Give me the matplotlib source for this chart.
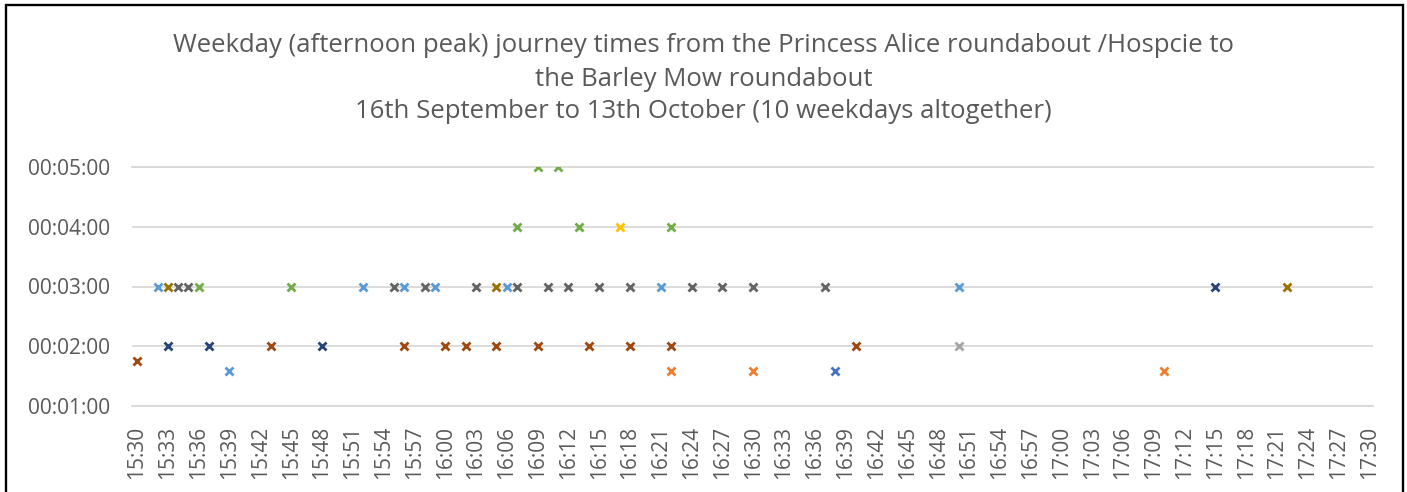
import matplotlib
matplotlib.use("Agg")
import matplotlib.pyplot as plt
from matplotlib import font_manager
from matplotlib.patches import Rectangle

# ---------------- data ----------------
title_lines = [
    "Weekday (afternoon peak) journey times from the Princess Alice roundabout /Hospcie to",
    "the Barley Mow roundabout",
    "16th September to 13th October (10 weekdays altogether)",
]

series_names = ["Day 1", "Day 2", "Day 3", "Day 4", "Day 5",
                "Day 6", "Day 7", "Day 8", "Day 9", "Day 10"]
series_colors = ["#4472C4", "#ED7D31", "#A5A5A5", "#FFC000", "#5B9BD5",
                 "#70AD47", "#264478", "#9E480E", "#636363", "#997300"]

# departure time (HH:MM) and journey time (MM:SS) per day
day1_times = ["16:38"]
day1_durations = ["01:35"]
day2_times = ["16:22", "16:30", "17:10"]
day2_durations = ["01:35", "01:35", "01:35"]
day3_times = ["16:50"]
day3_durations = ["02:00"]
day4_times = ["16:17"]
day4_durations = ["04:00"]
day5_times = ["15:32", "15:39", "15:52", "15:56", "15:59", "16:06", "16:21", "16:50"]
day5_durations = ["03:00", "01:35", "03:00", "03:00", "03:00", "03:00", "03:00", "03:00"]
day6_times = ["15:36", "15:45", "16:07", "16:09", "16:11", "16:13", "16:22"]
day6_durations = ["03:00", "03:00", "04:00", "05:00", "05:00", "04:00", "04:00"]
day7_times = ["15:33", "15:37", "15:48", "17:15"]
day7_durations = ["02:00", "02:00", "02:00", "03:00"]
day8_times = ["15:30", "15:43", "15:56", "16:00", "16:02", "16:05", "16:09",
              "16:14", "16:18", "16:22", "16:40"]
day8_durations = ["01:45", "02:00", "02:00", "02:00", "02:00", "02:00", "02:00",
                  "02:00", "02:00", "02:00", "02:00"]
day9_times = ["15:34", "15:35", "15:55", "15:58", "16:03", "16:07", "16:10",
              "16:12", "16:15", "16:18", "16:24", "16:27", "16:30", "16:37"]
day9_durations = ["03:00"] * 14
day10_times = ["15:33", "16:05", "17:22"]
day10_durations = ["03:00", "03:00", "03:00"]

x_tick_labels = ["15:30", "15:33", "15:36", "15:39", "15:42", "15:45", "15:48",
                 "15:51", "15:54", "15:57", "16:00", "16:03", "16:06", "16:09",
                 "16:12", "16:15", "16:18", "16:21", "16:24", "16:27", "16:30",
                 "16:33", "16:36", "16:39", "16:42", "16:45", "16:48", "16:51",
                 "16:54", "16:57", "17:00", "17:03", "17:06", "17:09", "17:12",
                 "17:15", "17:18", "17:21", "17:24", "17:27", "17:30"]
y_tick_labels = ["00:01:00", "00:02:00", "00:03:00", "00:04:00", "00:05:00"]

all_times = [day1_times, day2_times, day3_times, day4_times, day5_times,
             day6_times, day7_times, day8_times, day9_times, day10_times]
all_durations = [day1_durations, day2_durations, day3_durations, day4_durations,
                 day5_durations, day6_durations, day7_durations, day8_durations,
                 day9_durations, day10_durations]


def clock_to_min(s):
    h, m = s.split(":")
    return int(h) * 60 + int(m)


def dur_to_min(s):
    parts = [int(p) for p in s.split(":")]
    if len(parts) == 3:
        return parts[0] * 60 + parts[1] + parts[2] / 60
    return parts[0] + parts[1] / 60


# ---------------- fonts ----------------
installed = {f.name for f in font_manager.fontManager.ttflist}
tick_font = "Open Sans" if "Open Sans" in installed else "DejaVu Sans"
title_font = tick_font
TXT = "#595959"

# ---------------- figure ----------------
W, H = 1407, 492
fig = plt.figure(figsize=(W / 100, H / 100), dpi=100)
fig.patch.set_facecolor("white")

ax_l, ax_r, ax_t, ax_b = 132, 1373, 166.7, 406.3
ax = fig.add_axes([ax_l / W, (H - ax_b) / H, (ax_r - ax_l) / W, (ax_b - ax_t) / H])

for times, durs, name, col in zip(all_times, all_durations, series_names, series_colors):
    xs = [clock_to_min(t) for t in times]
    ys = [dur_to_min(d) for d in durs]
    ax.plot(xs, ys, linestyle="none", marker="x", markersize=5.5,
            markeredgewidth=2.0, color=col, label=name, zorder=3)

x_ticks = [clock_to_min(s) for s in x_tick_labels]
y_ticks = [dur_to_min(s) for s in y_tick_labels]
ax.set_xticks(x_ticks)
ax.set_xticklabels(x_tick_labels, rotation=90, fontsize=15, color=TXT,
                   family=tick_font)
ax.set_yticks(y_ticks)
ax.set_yticklabels(y_tick_labels, fontsize=15, color=TXT, family=tick_font)
ax.set_xlim(x_ticks[0] - 0.49, x_ticks[-1] + 0.35)
ax.set_ylim(y_ticks[0], y_ticks[-1])
ax.tick_params(axis="x", length=0, pad=14)
ax.tick_params(axis="y", length=0, pad=16)

ax.grid(axis="y", color="#D9D9D9", linewidth=1.3, zorder=1)
ax.set_axisbelow(True)
for side in ("left", "right"):
    ax.spines[side].set_visible(False)
for side in ("top", "bottom"):
    ax.spines[side].set_color("#D9D9D9")
    ax.spines[side].set_linewidth(1.3)

# title, fitted to the reference width
renderer = fig.canvas.get_renderer()
title_y = [45, 79, 112]
target_w = 1062
t0 = fig.text(0.5, 1 - title_y[0] / H, title_lines[0], ha="center", va="center",
              fontsize=18, color=TXT, family=title_font)
w0 = t0.get_window_extent(renderer).width
fs = 18 * target_w / w0
t0.set_fontsize(fs)
for line, yy in zip(title_lines[1:], title_y[1:]):
    fig.text(0.5, 1 - yy / H, line, ha="center", va="center",
             fontsize=fs, color=TXT, family=title_font)

# chart border
fig.add_artist(Rectangle((6 / W, -0.1), (1402.8 - 6) / W, 1.1 - 5 / H,
                         transform=fig.transFigure, fill=False,
                         edgecolor="black", linewidth=1.7))

fig.savefig("out.png", dpi=100)
